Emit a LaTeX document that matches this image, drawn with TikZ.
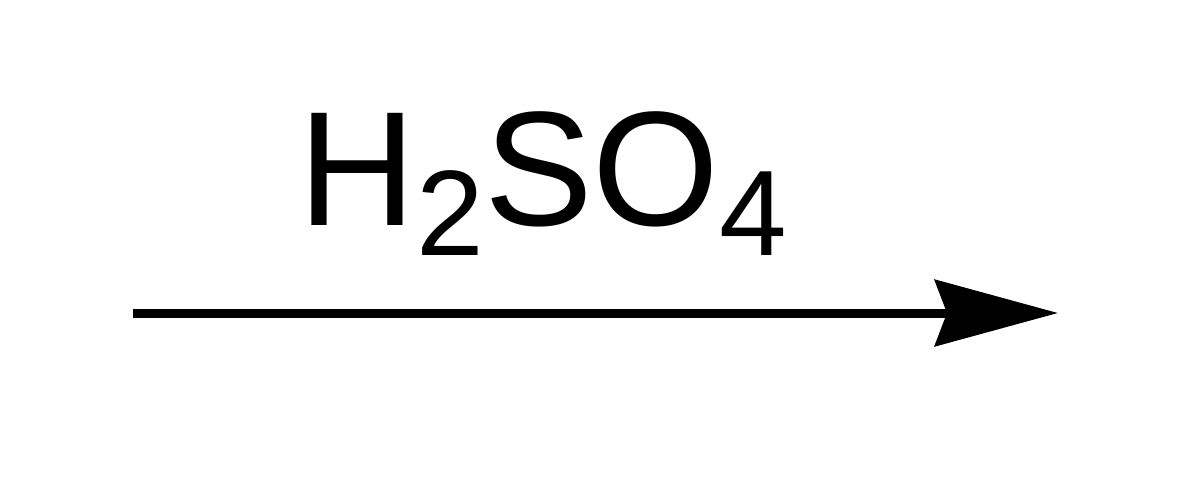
\documentclass[tikz,border=0pt]{standalone}
\usepackage{fontspec}
\setmainfont{Liberation Sans}
\usetikzlibrary{arrows.meta}

\begin{document}
\begin{tikzpicture}
\useasboundingbox (0,0) rectangle (11.79,4.96);

\coordinate (A_start) at (1.33, 1.83);
\coordinate (A_end) at (10.58, 1.83);

\tikzset{ArrowStyle/.style = {line width=0.09cm, -{Stealth[length=1.23cm, width=0.66cm, inset=0.12cm]}} }
\tikzset{LabelStyle/.style = {inner sep=0pt, anchor=base west, font=\fontsize{46.4pt}{50pt}\selectfont} }
\newcommand{\lowsub}[1]{\raisebox{-0.3cm}{\fontsize{34.6pt}{38pt}\selectfont #1}}

\node[LabelStyle] (Reagent) at (2.98, 2.71) {H\lowsub{2}SO\lowsub{4}};

\draw[ArrowStyle] (A_start) -- (A_end);

\end{tikzpicture}
\end{document}
